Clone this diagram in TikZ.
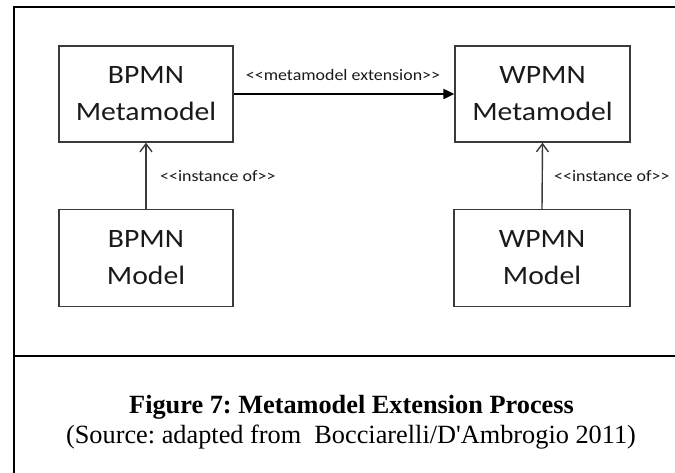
\documentclass[tikz,border=0pt]{standalone}
\usepackage{fontspec}
\setmainfont{Liberation Serif}
\newfontfamily\capserif{Liberation Serif}
\newfontfamily\boxfont[FakeStretch=1.12]{Carlito}
\usetikzlibrary{arrows.meta}

\definecolor{inkgray}{HTML}{3A3A3A}
\definecolor{textdark}{HTML}{1A1A1A}

\tikzset{
  modelbox/.style={draw=inkgray, line width=1.4pt, minimum width=174pt,
    minimum height=96pt, inner sep=0pt, align=center, text=textdark,
    font=\boxfont\fontsize{26.5}{37}\selectfont},
  relation/.style={font=\boxfont\fontsize{16}{18}\selectfont, text=textdark, inner sep=0pt},
  instanceof/.style={draw=inkgray, line width=1.4pt,
    -{Straight Barb[length=8pt,width=12pt,line width=1.4pt]}},
  extension/.style={draw=black, line width=2.2pt,
    -{Triangle[length=11pt,width=10pt]}},
  frameline/.style={draw=black, line width=2.3pt},
  captionline/.style={inner sep=0pt, anchor=base}
}

\begin{document}
\frenchspacing
\begin{tikzpicture}[x=1pt, y=-1pt]
  \useasboundingbox (0,0) rectangle (675,472);

  % outer frame and caption separator
  \draw[frameline] (680,7) -- (14,7) -- (14,480);
  \draw[frameline] (14,356) -- (680,356);

  % the four model boxes
  \node[modelbox] (bmeta) at (146,94) {BPMN\\Metamodel};
  \node[modelbox, minimum width=175pt] (wmeta) at (542.5,94) {WPMN\\Metamodel};
  \node[modelbox, minimum height=97pt] (bmodel) at (146,258) {BPMN\\Model};
  \node[modelbox, minimum width=176pt, minimum height=97pt] (wmodel) at (542,258) {WPMN\\Model};

  % relations
  \draw[extension] (bmeta.east) -- (wmeta.west);
  \draw[instanceof] (bmodel.north) -- (bmeta.south);
  \draw[instanceof] (wmodel.north) -- (wmeta.south);

  \node[relation] (extlabel) at (343,75) {<{}<metamodel extension>{}>};
  \node[relation, anchor=west] (binst) at (160,176) {<{}<instance of>{}>};
  \node[relation, anchor=west] (winst) at (554,176) {<{}<instance of>{}>};

  % caption
  \node[captionline, font=\capserif\bfseries\fontsize{26.3}{30}\selectfont] (figcap) at (351.5,413)
    {Figure 7: Metamodel Extension Process};
  \node[captionline, font=\capserif\fontsize{26.3}{30}\selectfont] (srccap) at (351,443)
    {(Source: adapted from\ \ Bocciarelli/D'Ambrogio 2011)};
\end{tikzpicture}
\end{document}
